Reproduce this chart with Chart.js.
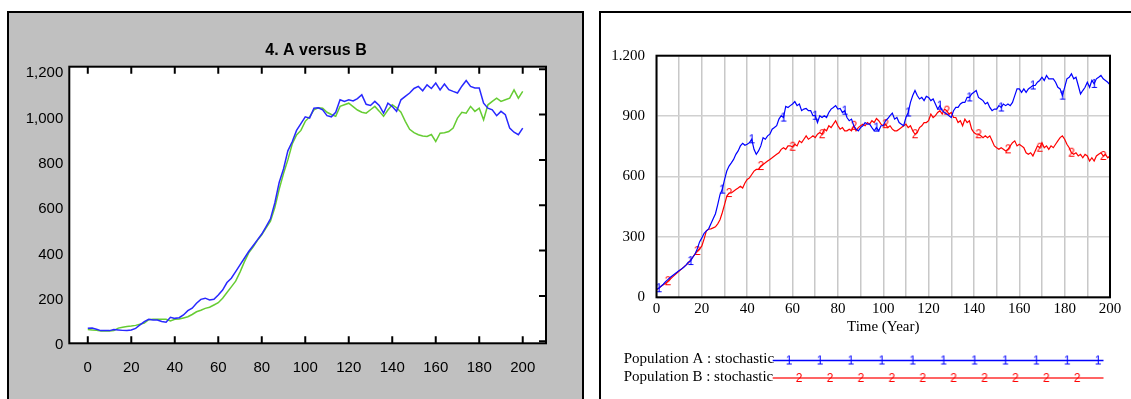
<!DOCTYPE html>
<html>
<head>
<meta charset="utf-8">
<script src="https://cdn.jsdelivr.net/npm/chart.js@4.4.1/dist/chart.umd.min.js"></script>
<style>
  html, body { margin: 0; padding: 0; background: #fff; overflow: hidden; }
  body { width: 1131px; height: 399px; position: relative; }
  #panelA { position: absolute; left: 7px; top: 11px; width: 577px; height: 400px; box-sizing: border-box; border: 2px solid #000; background: #c0c0c0; }
  #panelB { position: absolute; left: 599px; top: 11px; width: 540px; height: 400px; box-sizing: border-box; border: 2px solid #000; background: #fff; }
  #chartA { position: absolute; left: 0; top: 0; }
  #chartB { position: absolute; left: 600px; top: 0; }
</style>
</head>
<body>
<div id="panelA"></div>
<div id="panelB"></div>
<canvas id="chartA" width="590" height="399"></canvas>
<canvas id="chartB" width="531" height="399"></canvas>
<script>
// ---------- left chart: "4. A versus B" (one value every 2 years) ----------
const yearsLeft = [
  0, 2, 4, 6, 8, 10, 12, 14, 16, 18,
  20, 22, 24, 26, 28, 30, 32, 34, 36, 38,
  40, 42, 44, 46, 48, 50, 52, 54, 56, 58,
  60, 62, 64, 66, 68, 70, 72, 74, 76, 78,
  80, 82, 84, 86, 88, 90, 92, 94, 96, 98,
  100, 102, 104, 106, 108, 110, 112, 114, 116, 118,
  120, 122, 124, 126, 128, 130, 132, 134, 136, 138,
  140, 142, 144, 146, 148, 150, 152, 154, 156, 158,
  160, 162, 164, 166, 168, 170, 172, 174, 176, 178,
  180, 182, 184, 186, 188, 190, 192, 194, 196, 198,
  200
];
const leftA = [
  57, 58, 53, 47, 48, 47, 52, 50, 48, 47,
  50, 57, 72, 87, 97, 94, 94, 87, 84, 106,
  101, 104, 116, 135, 146, 168, 185, 190, 182, 185,
  204, 226, 259, 278, 307, 337, 366, 396, 421, 447,
  473, 506, 540, 610, 700, 760, 840, 880, 930, 960,
  990, 984, 1028, 1030, 1021, 995, 990, 1010, 1065, 1058,
  1065, 1060, 1070, 1087, 1045, 1040, 1058, 1040, 1006, 1050,
  1035, 1014, 1065, 1080, 1095, 1115, 1124, 1105, 1131, 1115,
  1139, 1109, 1135, 1110, 1102, 1095, 1125, 1150, 1124, 1117,
  1117, 1050, 1028, 1021, 995, 1014, 999, 940, 922, 911,
  940
];
const leftB = [
  52, 50, 48, 45, 45, 45, 47, 58, 62, 65,
  67, 70, 75, 80, 95, 97, 97, 97, 97, 90,
  97, 98, 103, 108, 118, 130, 137, 145, 150, 160,
  170, 190, 215, 240, 265, 305, 350, 390, 415, 445,
  470, 500, 530, 590, 670, 740, 800, 870, 910, 930,
  970, 990, 1021, 1030, 1028, 1010, 1000, 992, 1036, 1043,
  1050, 1035, 1020, 1010, 1006, 1021, 1036, 1015, 992, 1020,
  1043, 1030, 1010, 970, 935, 920, 911, 905, 903, 912,
  881, 918, 920, 925, 940, 984, 1010, 1006, 1036, 1014,
  1028, 977, 1043, 1058, 1072, 1058, 1065, 1072, 1109, 1072,
  1102
];
const leftXTicks = [0, 20, 40, 60, 80, 100, 120, 140, 160, 180, 200];
const leftYTicks = [0, 200, 400, 600, 800, 1000, 1200];
const leftYLabels = ['0', '200', '400', '600', '800', '1,000', '1,200'];

// ---------- right chart: Population A / B, stochastic (one value per year) ----------
const yearsRight = [
  0, 1, 2, 3, 4, 5, 6, 7, 8, 9, 10, 11, 12, 13, 14, 15, 16, 17, 18, 19,
  20, 21, 22, 23, 24, 25, 26, 27, 28, 29, 30, 31, 32, 33, 34, 35, 36, 37, 38, 39,
  40, 41, 42, 43, 44, 45, 46, 47, 48, 49, 50, 51, 52, 53, 54, 55, 56, 57, 58, 59,
  60, 61, 62, 63, 64, 65, 66, 67, 68, 69, 70, 71, 72, 73, 74, 75, 76, 77, 78, 79,
  80, 81, 82, 83, 84, 85, 86, 87, 88, 89, 90, 91, 92, 93, 94, 95, 96, 97, 98, 99,
  100, 101, 102, 103, 104, 105, 106, 107, 108, 109, 110, 111, 112, 113, 114, 115, 116, 117, 118, 119,
  120, 121, 122, 123, 124, 125, 126, 127, 128, 129, 130, 131, 132, 133, 134, 135, 136, 137, 138, 139,
  140, 141, 142, 143, 144, 145, 146, 147, 148, 149, 150, 151, 152, 153, 154, 155, 156, 157, 158, 159,
  160, 161, 162, 163, 164, 165, 166, 167, 168, 169, 170, 171, 172, 173, 174, 175, 176, 177, 178, 179,
  180, 181, 182, 183, 184, 185, 186, 187, 188, 189, 190, 191, 192, 193, 194, 195, 196, 197, 198, 199,
  200
];
const rightA = [
  40, 45, 55, 65, 78, 88, 98, 107, 116, 124, 133, 140, 149, 160, 174, 180, 199, 215, 241, 275,
  295, 318, 330, 340, 365, 390, 415, 460, 510, 535, 585, 627, 652, 668, 685, 710, 727, 752, 765, 755,
  760, 768, 785, 735, 710, 727, 752, 793, 785, 802, 810, 835, 843, 852, 885, 902, 893, 948, 943, 952,
  960, 972, 952, 960, 927, 935, 938, 927, 927, 902, 902, 868, 902, 893, 902, 893, 918, 935, 943, 952,
  935, 938, 918, 927, 893, 877, 885, 852, 835, 827, 843, 852, 868, 860, 860, 843, 827, 843, 827, 852,
  852, 877, 888, 902, 915, 885, 893, 868, 860, 852, 893, 918, 968, 1002, 1027, 1002, 985, 993, 977, 998,
  993, 977, 985, 960, 935, 952, 927, 918, 910, 902, 893, 927, 943, 943, 960, 968, 968, 993, 993, 1010,
  1018, 1027, 993, 985, 977, 960, 968, 943, 927, 935, 935, 952, 943, 960, 952, 960, 952, 968, 1002, 1035,
  1035, 1018, 1035, 1018, 1035, 1043, 1052, 1052, 1068, 1077, 1093, 1077, 1102, 1085, 1085, 1085, 1068, 1043, 1035, 1002,
  1043, 1085, 1093, 1110, 1085, 1093, 1052, 1010, 1027, 1043, 1068, 1043, 1077, 1060, 1085, 1093, 1102, 1085, 1077, 1068,
  1055
];
const rightB = [
  38, 45, 55, 62, 70, 80, 90, 100, 110, 120, 130, 140, 150, 160, 170, 185, 200, 215, 230, 240,
  255, 290, 330, 338, 340, 345, 350, 365, 385, 420, 460, 502, 518, 518, 527, 535, 543, 552, 543, 568,
  585, 593, 610, 627, 635, 635, 652, 660, 668, 677, 685, 693, 702, 710, 718, 735, 743, 735, 752, 752,
  748, 760, 752, 777, 768, 785, 802, 785, 793, 802, 793, 810, 818, 810, 835, 827, 852, 843, 860, 877,
  852, 835, 843, 827, 827, 835, 827, 852, 827, 843, 852, 860, 852, 868, 860, 877, 868, 888, 877, 860,
  852, 860, 843, 852, 835, 827, 827, 835, 843, 852, 860, 843, 852, 827, 810, 818, 843, 852, 868, 868,
  877, 910, 893, 902, 918, 927, 910, 935, 927, 910, 918, 893, 893, 868, 877, 852, 885, 868, 877, 835,
  818, 810, 810, 802, 793, 802, 793, 802, 777, 752, 743, 735, 743, 735, 727, 735, 752, 768, 777, 752,
  760, 752, 743, 718, 710, 718, 702, 727, 752, 743, 768, 743, 752, 735, 752, 743, 760, 777, 793, 802,
  785, 760, 743, 718, 710, 718, 702, 710, 693, 710, 702, 677, 693, 677, 702, 710, 718, 702, 710, 693,
  702
];
// years where the "1" / "2" run labels sit on the curves
const markYearsA = [1, 15, 29, 42, 56, 70, 83, 97, 111, 125, 138, 152, 166, 179, 193];
const markYearsB = [5, 18, 32, 46, 60, 73, 87, 101, 114, 128, 142, 155, 169, 183, 197];
const rightXTicks = [0, 10, 20, 30, 40, 50, 60, 70, 80, 90, 100, 110, 120, 130, 140, 150, 160, 170, 180, 190, 200];
const rightXLabelled = [0, 20, 40, 60, 80, 100, 120, 140, 160, 180, 200];
const rightYTicks = [0, 300, 600, 900, 1200];
const rightYLabels = ['0', '300', '600', '900', '1.200'];
const seriesNames = ['Population A : stochastic', 'Population B : stochastic'];

const SANS = "'Liberation Sans', Arial, sans-serif";
const SERIF = "'Liberation Serif', 'Times New Roman', serif";
Chart.defaults.color = '#000';
Chart.defaults.animation = false;

const toXY = (xs, vals) => xs.map((t, i) => ({ x: t, y: vals[i] }));

const leftFrame = {
  id: 'leftFrame',
  beforeDraw(chart) {
    const { ctx, chartArea: a } = chart;
    ctx.save();
    ctx.fillStyle = '#fff';
    ctx.fillRect(a.left, a.top, a.right - a.left, a.bottom - a.top);
    ctx.restore();
  },
  afterDatasetsDraw(chart) {
    const { ctx, chartArea: a } = chart;
    const xs = chart.scales.x, ys = chart.scales.y;
    ctx.save();
    ctx.strokeStyle = '#000';
    ctx.lineWidth = 2;
    ctx.strokeRect(a.left, a.top, a.right - a.left, a.bottom - a.top);
    ctx.beginPath();
    xs.ticks.forEach(t => {
      const px = xs.getPixelForValue(t.value);
      ctx.moveTo(px, a.top); ctx.lineTo(px, a.top + 7);
      ctx.moveTo(px, a.bottom); ctx.lineTo(px, a.bottom - 7);
    });
    ys.ticks.forEach(t => {
      const py = ys.getPixelForValue(t.value);
      ctx.moveTo(a.right, py); ctx.lineTo(a.right - 7, py);
    });
    ctx.stroke();
    // title
    ctx.fillStyle = '#000';
    ctx.font = 'bold 16px ' + SANS;
    ctx.textAlign = 'center';
    ctx.textBaseline = 'middle';
    ctx.fillText('4. A versus B', 316, 51);
    ctx.restore();
  }
};

new Chart(document.getElementById('chartA'), {
  type: 'line',
  data: {
    datasets: [
      { data: toXY(yearsLeft, leftA), borderColor: '#2828ff', borderWidth: 1.5, pointRadius: 0, tension: 0 },
      { data: toXY(yearsLeft, leftB), borderColor: '#66cc33', borderWidth: 1.5, pointRadius: 0, tension: 0 }
    ]
  },
  options: {
    responsive: false,
    events: [],
    layout: { padding: { left: 0, right: 44, top: 66.7, bottom: 0 } },
    plugins: { legend: { display: false }, tooltip: { enabled: false } },
    scales: {
      x: {
        type: 'linear', min: -8.5, max: 210.7,
        afterBuildTicks: s => { s.ticks = leftXTicks.map(v => ({ value: v })); },
        afterFit: s => { s.height = 55.7; },
        grid: { display: false },
        border: { display: false },
        ticks: { padding: 8, maxRotation: 0, autoSkip: false, font: { family: SANS, size: 15 } }
      },
      y: {
        type: 'linear', min: -9, max: 1211,
        afterBuildTicks: s => { s.ticks = leftYTicks.map(v => ({ value: v })); },
        afterFit: s => { s.width = 69.3; },
        grid: { display: false, drawTicks: false },
        border: { display: false },
        ticks: {
          padding: 6, labelOffset: 4, autoSkip: false, font: { family: SANS, size: 15 },
          callback: v => leftYLabels[leftYTicks.indexOf(v)]
        }
      }
    }
  },
  plugins: [leftFrame]
});

function glyph(text, color) {
  const c = document.createElement('canvas');
  c.width = 10; c.height = 14;
  const g = c.getContext('2d');
  g.fillStyle = color;
  g.font = '12px ' + SANS;
  g.textAlign = 'center';
  g.textBaseline = 'middle';
  g.fillText(text, 5, 7.5);
  return c;
}
const glyphA = glyph('1', '#0000ff');
const glyphB = glyph('2', '#ff0000');

const rightFrame = {
  id: 'rightFrame',
  afterDatasetsDraw(chart) {
    const { ctx, chartArea: a } = chart;
    ctx.save();
    ctx.strokeStyle = '#000';
    ctx.lineWidth = 2;
    ctx.strokeRect(a.left, a.top, a.right - a.left, a.bottom - a.top);
    ctx.restore();
  },
  afterDraw(chart) {
    const { ctx } = chart;
    const rows = [
      { name: seriesNames[0], color: '#0000ff', glyph: glyphA, ty: 359, ly: 360.5, first: 189, count: 11 },
      { name: seriesNames[1], color: '#ff3030', glyph: glyphB, ty: 377, ly: 378, first: 199, count: 10 }
    ];
    ctx.save();
    rows.forEach(r => {
      ctx.fillStyle = '#000';
      ctx.font = '15px ' + SERIF;
      ctx.textAlign = 'left';
      ctx.textBaseline = 'middle';
      ctx.fillText(r.name, 23.7, r.ty);
      ctx.strokeStyle = r.color;
      ctx.lineWidth = 1.5;
      ctx.beginPath();
      ctx.moveTo(172.7, r.ly); ctx.lineTo(503.5, r.ly);
      ctx.stroke();
      for (let k = 0; k < r.count; k++) {
        const gx = r.first + k * 30.9;
        ctx.drawImage(r.glyph, gx - r.glyph.width / 2, r.ly - r.glyph.height / 2);
      }
    });
    ctx.restore();
  }
};

const markerRadius = marks => c => (c.raw && marks.includes(c.raw.x)) ? 4 : 0;

new Chart(document.getElementById('chartB'), {
  type: 'line',
  data: {
    datasets: [
      { data: toXY(yearsRight, rightA), borderColor: '#0000ff', borderWidth: 1.2, tension: 0,
        pointRadius: markerRadius(markYearsA), pointStyle: glyphA },
      { data: toXY(yearsRight, rightB), borderColor: '#ff0000', borderWidth: 1.2, tension: 0,
        pointRadius: markerRadius(markYearsB), pointStyle: glyphB }
    ]
  },
  options: {
    responsive: false,
    events: [],
    layout: { padding: { left: 0, right: 21, top: 55.7, bottom: 0 } },
    plugins: { legend: { display: false }, tooltip: { enabled: false } },
    scales: {
      x: {
        type: 'linear', min: 0, max: 200,
        afterBuildTicks: s => { s.ticks = rightXTicks.map(v => ({ value: v })); },
        afterFit: s => { s.height = 101.7; },
        grid: { color: '#c8c8c8', lineWidth: 1.5, drawTicks: false },
        border: { display: false },
        ticks: {
          padding: 3, maxRotation: 0, autoSkip: false, font: { family: SERIF, size: 15 },
          callback: v => rightXLabelled.includes(v) ? String(v) : ''
        },
        title: { display: true, text: 'Time (Year)', font: { family: SERIF, size: 15 }, padding: { top: 0, bottom: 63 } }
      },
      y: {
        type: 'linear', min: 0, max: 1200,
        afterBuildTicks: s => { s.ticks = rightYTicks.map(v => ({ value: v })); },
        afterFit: s => { s.width = 56.5; },
        grid: { color: '#d0d0d0', lineWidth: 1.5, drawTicks: false },
        border: { display: false },
        ticks: {
          padding: 11.5, autoSkip: false, font: { family: SERIF, size: 15 },
          callback: v => rightYLabels[rightYTicks.indexOf(v)]
        }
      }
    }
  },
  plugins: [rightFrame]
});
</script>
</body>
</html>
